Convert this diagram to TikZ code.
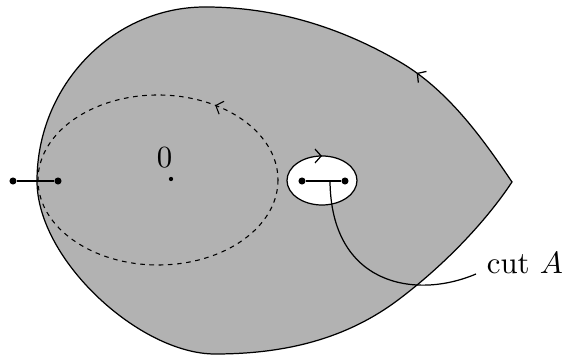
\documentclass[tikz,border=0pt]{standalone}
\usetikzlibrary{arrows.meta,decorations.markings}
\tikzset{
    region/.style   = {fill=black!30, draw=black, line width=0.4pt},
    hole/.style     = {fill=white, draw=black, line width=0.4pt},
    loopline/.style = {draw=black, line width=0.35pt, dash pattern=on 1.5pt off 1.5pt},
    cutline/.style  = {draw=black, line width=0.4pt},
    cutdot/.style   = {circle, fill=black, inner sep=0pt, minimum size=2.3pt},
    fwdtip/.style   = {postaction={decorate}, decoration={markings,
                       mark=at position #1 with {\arrow{Straight Barb[length=2pt,width=4.5pt]}}}},
    backtip/.style  = {postaction={decorate}, decoration={markings,
                       mark=at position #1 with {\arrowreversed{Straight Barb[length=2pt,width=4.5pt]}}}}
}
\begin{document}
\begin{tikzpicture}[x=0.325pt, y=-0.325pt]
\useasboundingbox (0,0) rectangle (566,358);
% shaded region, corner at the right
\draw[region, fwdtip=0.115] (512,182)
   .. controls (481,136) and (447,89.5) .. (400,62)
   .. controls (340,27) and (275,7) .. (205,7)
   .. controls (113,7) and (37,85) .. (37,181)
   .. controls (37,260) and (140,354) .. (215,354)
   .. controls (285,354) and (346,339) .. (398,300)
   .. controls (442,267) and (484.5,223.5) .. (512,182) -- cycle;
% dashed loop round the origin
\draw[loopline, backtip=0.84] (158,180) ellipse (120 and 85);
% hole with cut A
\draw[hole, fwdtip=0.75] (322,180.5) ellipse (35 and 24.5);
\node[cutdot] (a1) at (302,181) {};
\node[cutdot] (a2) at (345,181) {};
\draw[cutline] (a1) -- (a2);
% left cut
\node[cutdot] (b1) at (13,181) {};
\node[cutdot] (b2) at (58,181) {};
\draw[cutline] (b1) -- (b2);
% origin
\node[cutdot, minimum size=1.4pt] (origin) at (171,179) {};
\node (zero) at (164.5,158) {$0$};
% label
\coordinate (cutfoot) at (330,181);
\node[anchor=base west] (cutlabel) at (476,274) {cut $A$};
\draw[line width=0.4pt] (cutfoot) .. controls (331,285) and (415,300) .. (cutlabel.base west);
\end{tikzpicture}
\end{document}
